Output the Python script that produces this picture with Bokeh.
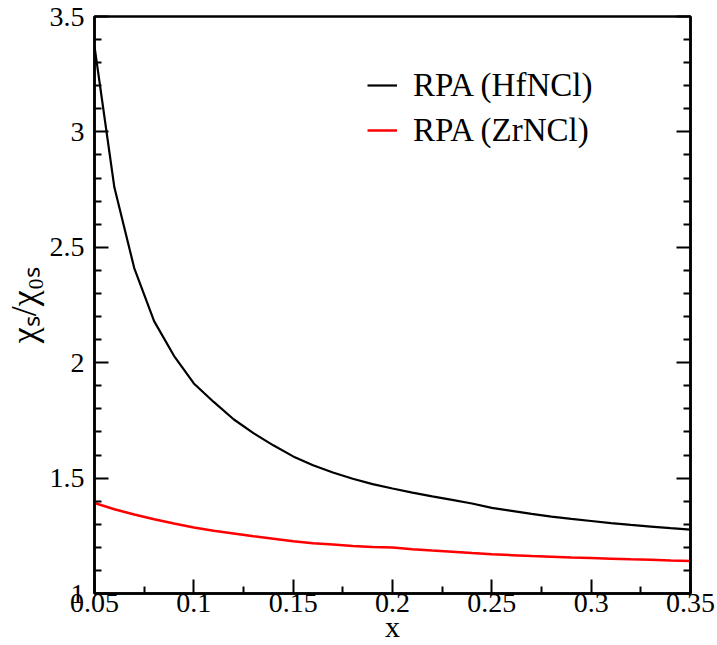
from bokeh.plotting import figure
from bokeh.models import (Range1d, FixedTicker, LinearAxis, Legend, LegendItem,
                          CustomJSTickFormatter)
from bokeh.embed import file_html
from bokeh.resources import INLINE

# ---- data ----
x_vals = [0.05, 0.06, 0.07, 0.08, 0.09, 0.10, 0.11, 0.12, 0.13, 0.14, 0.15,
          0.16, 0.17, 0.18, 0.19, 0.20, 0.21, 0.22, 0.23, 0.24, 0.25,
          0.26, 0.27, 0.28, 0.29, 0.30, 0.31, 0.32, 0.33, 0.34, 0.35]
hf_vals = [3.37, 2.76, 2.41, 2.18, 2.03, 1.91, 1.83, 1.755, 1.695, 1.642, 1.594,
           1.556, 1.524, 1.497, 1.474, 1.455, 1.437, 1.421, 1.406, 1.39, 1.371,
           1.358, 1.345, 1.333, 1.323, 1.314, 1.305, 1.297, 1.29, 1.283, 1.277]
zr_vals = [1.392, 1.365, 1.342, 1.322, 1.303, 1.286, 1.272, 1.260, 1.248, 1.237, 1.226,
           1.218, 1.212, 1.206, 1.202, 1.199, 1.192, 1.186, 1.181, 1.175, 1.170,
           1.166, 1.162, 1.159, 1.156, 1.154, 1.151, 1.148, 1.146, 1.143, 1.141]
series_labels = ["RPA (HfNCl)", "RPA (ZrNCl)"]
x_major_ticks = [0.05, 0.1, 0.15, 0.2, 0.25, 0.3, 0.35]
x_minor_ticks = [0.075, 0.125, 0.175, 0.225, 0.275, 0.325]
y_major_ticks = [1, 1.5, 2, 2.5, 3, 3.5]
y_minor_ticks = [1.1, 1.2, 1.3, 1.4, 1.6, 1.7, 1.8, 1.9, 2.1, 2.2, 2.3, 2.4,
                 2.6, 2.7, 2.8, 2.9, 3.1, 3.2, 3.3, 3.4]
x_label = "x"
y_label = "χₛ/χ₀ₛ"

FONT = "Liberation Serif"

p = figure(width=717, height=645, output_backend="svg", toolbar_location=None,
           x_range=Range1d(0.05, 0.35), y_range=Range1d(1.0, 3.5),
           min_border_left=94, min_border_right=27, min_border_top=16, min_border_bottom=52)
p.background_fill_color = "white"
p.border_fill_color = "white"
p.outline_line_color = "black"
p.outline_line_width = 2.5
p.xgrid.visible = False
p.ygrid.visible = False

fmt = CustomJSTickFormatter(code="return String(Math.round(tick*1000)/1000)")
xt = FixedTicker(ticks=x_major_ticks, minor_ticks=x_minor_ticks)
yt = FixedTicker(ticks=y_major_ticks, minor_ticks=y_minor_ticks)

def style_axis(ax):
    ax.axis_line_color = "black"
    ax.axis_line_width = 2.5
    ax.major_tick_line_color = "black"
    ax.minor_tick_line_color = "black"
    ax.major_tick_line_width = 2
    ax.minor_tick_line_width = 2
    ax.major_tick_in = 14
    ax.major_tick_out = 0
    ax.minor_tick_in = 7
    ax.minor_tick_out = 0
    ax.major_label_text_font = FONT
    ax.major_label_text_font_size = "28px"
    ax.major_label_text_color = "black"

p.xaxis.ticker = xt
p.yaxis.ticker = yt
p.xaxis.formatter = fmt
p.yaxis.formatter = fmt
for ax in p.xaxis + p.yaxis:
    style_axis(ax)
p.xaxis.major_label_standoff = 0
p.yaxis.major_label_standoff = 10

p.xaxis.axis_label = x_label
p.xaxis.axis_label_text_font = FONT
p.xaxis.axis_label_text_font_size = "30px"
p.xaxis.axis_label_text_font_style = "normal"
p.xaxis.axis_label_text_color = "black"
p.xaxis.axis_label_standoff = -5

p.yaxis.axis_label = y_label
p.yaxis.axis_label_text_font = FONT
p.yaxis.axis_label_text_font_size = "36px"
p.yaxis.axis_label_text_font_style = "normal"
p.yaxis.axis_label_text_color = "black"
p.yaxis.axis_label_standoff = 3

right = LinearAxis(ticker=yt, formatter=CustomJSTickFormatter(code="return ''"))
style_axis(right)
p.add_layout(right, "right")

r_hf = p.line(x_vals, hf_vals, line_color="black", line_width=2.2)
r_zr = p.line(x_vals, zr_vals, line_color="#ff0000", line_width=2.5)

legend = Legend(items=[LegendItem(label=series_labels[0], renderers=[r_hf]),
                       LegendItem(label=series_labels[1], renderers=[r_zr])],
                location=(273, 444), padding=0, margin=0, spacing=7,
                glyph_width=30, glyph_height=38, label_height=38, label_standoff=16,
                label_text_font=FONT, label_text_font_size="33px",
                label_text_color="black",
                border_line_color=None, background_fill_alpha=0)
p.add_layout(legend, "center")

open("out.html", "w").write(file_html(p, INLINE))
